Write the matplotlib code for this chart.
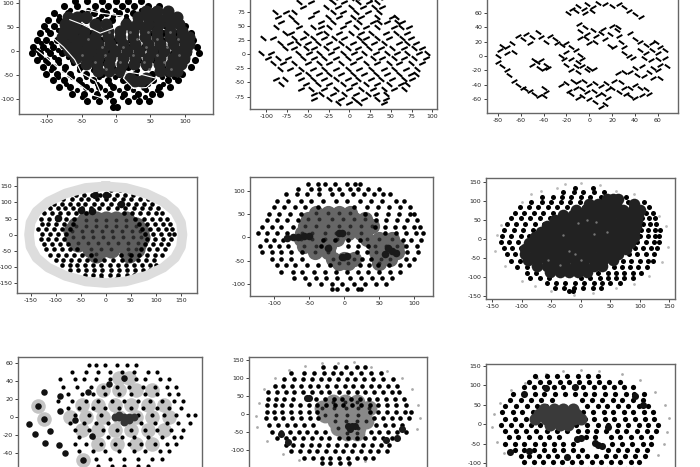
import matplotlib
matplotlib.use("Agg")
import matplotlib.pyplot as plt
from matplotlib.markers import MarkerStyle
from matplotlib.transforms import Affine2D

# Valores leidos a ojo de la figura. Cada fila: y -> lista de x

# --- fila 1, panel 1 ---
p1_base = {
    104: [-60, -42, -20, 0, 18, 36],
    93: [-76, -56, -30, -12, 8, 26, 46, 62],
    79: [-90, -70, -50, -32, -14, 4, 24, 44, 60, 76],
    65: [-98, -82, -64, -44, -26, -6, 14, 34, 54, 72, 90],
    51: [-104, -90, -72, -52, -30, -10, 12, 32, 52, 72, 92, 100],
    37: [-110, -96, -78, -58, -38, -16, 6, 26, 48, 68, 88, 108],
    23: [-114, -102, -86, -66, -44, -22, 0, 22, 44, 66, 88, 112],
    9: [-120, -106, -92, -72, -50, -28, -4, 18, 40, 62, 84, 106, 118],
    -5: [-122, -110, -96, -78, -56, -34, -10, 14, 36, 58, 82, 104, 120],
    -19: [-114, -102, -84, -62, -38, -14, 8, 32, 56, 80, 102, 114],
    -33: [-106, -92, -74, -52, -30, -6, 18, 42, 66, 90, 108],
    -47: [-102, -86, -66, -44, -20, 4, 28, 52, 76, 96],
    -61: [-92, -76, -54, -34, -12, 10, 32, 54, 76, 90],
    -75: [-82, -66, -44, -24, -4, 16, 40, 62, 78],
    -89: [-64, -46, -28, -8, 12, 32, 52, 64],
    -103: [-42, -24, -4, 18, 34, 48],
    -116: [-4, 2],
}
p1_fill = {
    86: [-66, -40, -20, -2, 16, 36, 54],
    72: [-82, -60, -22, -4, 14],
    44: [-100, -84, -66],
    16: [-108, -94, -76],
    2: [-114, -100, -84, -64],
    -12: [-108, -90, -70, -48, -28],
    -26: [-98, -82, -62, -40, -18],
    -40: [-94, -76, -54, -34, -12, 8, 30],
    -54: [-84, -64, -44, -24, -2, 18, 42, 66, 84],
    -68: [-72, -50, -28, -8, 22, 46, 68],
    -82: [-56, -36, -16, 4, 24, 44, 60],
    -96: [-50, -32, -14, 8, 26, 42],
}
p1_core = {
    84: [44, 60, 76],
    70: [-70, -56, -44, 32, 46, 60, 74, 88],
    56: [-74, -60, -30, -14, 14, 30, 46, 62, 78, 92],
    42: [-76, -62, -46, -28, -12, 6, 24, 42, 60, 78, 96],
    28: [-78, -62, -46, -30, -12, 6, 24, 42, 60, 78, 96, 106],
    14: [-74, -58, -42, -26, -8, 10, 28, 46, 64, 82, 100, 106],
    0: [-68, -52, -36, -20, -2, 16, 34, 52, 70, 88, 102],
    -14: [-58, -42, -26, -8, 10, 28, 46, 64, 82, 98],
    -28: [-44, -28, -10, 8, 26, 44, 62, 80, 94],
    -42: [-26, -10, 6, 64, 78, 88],
    -62: [28, 36],
    -56: [20, 44],
}
p1_speck = {
    40: [-10, 20, 46, 78],
    24: [-40, 30, 60, 90],
    8: [-20, 10, 44, 74],
    -8: [-50, -16, 24, 60, 92],
    -24: [-30, 6, 40, 70],
    -38: [-14, 48, 80],
}
v1_x = [-115, -100, -86, -71, -52, -33, -14]
v1_y = [2, -15, -33, -50, -71, -92, -100]
v2_x = [-67, -47, -23, -4, 11, -18, -48]
v2_y = [65, 54, 37, 47, 72, 78, 86]
v3_x = [11, 25, 44, 59, 35, 15, 11]
v3_y = [-57, -78, -76, -57, -48, -43, -57]
v4_x = [-92, -76, -60, -50, -30, -22, -8]
v4_y = [28, 8, -18, -46, -62, -88, -112]
p1_veins = [(v1_x, v1_y), (v2_x, v2_y), (v3_x, v3_y), (v4_x, v4_y)]

# --- fila 1, panel 2 ---
p2_dots = {
    108: [-6, 8, 20, 32],
    100: [-26, -12, 2, 14, 24, 42],
    92: [-60, -46, -20, -6, 10, 24, 34],
    84: [-56, -28, -14, 2, 16, 30, 40],
    75: [-90, -76, -66, -40, -20, -8, 8, 22, 36],
    66: [-86, -70, -46, -26, -12, 4, 14, 34, 52, 56],
    57: [-82, -64, -34, -20, -2, 12, 28, 36, 46, 58, 64],
    48: [-88, -60, -44, -34, -24, -8, 8, 20, 34, 54, 62, 72],
    38: [-78, -70, -52, -36, -28, -12, 2, 14, 26, 44, 56, 70],
    29: [-104, -92, -66, -56, -44, -30, -18, -6, 12, 20, 34, 48, 64, 74],
    20: [-84, -72, -62, -50, -38, -24, -10, 4, 18, 30, 42, 60, 70, 80],
    11: [-78, -66, -52, -42, -28, -16, -2, 10, 24, 38, 52, 66, 78, 88],
    2: [-106, -94, -62, -48, -36, -22, -8, 6, 18, 32, 46, 58, 70, 84, 94],
    -7: [-98, -86, -74, -56, -42, -30, -16, -2, 12, 28, 40, 54, 66, 78, 92],
    -16: [-92, -80, -66, -50, -36, -24, -10, 4, 20, 34, 48, 60, 74, 88],
    -26: [-84, -72, -58, -44, -30, -16, -2, 12, 26, 42, 54, 68, 82],
    -35: [-62, -50, -36, -24, -10, 4, 18, 32, 46, 60, 74, 80],
    -44: [-88, -78, -58, -44, -30, -16, -2, 10, 26, 38, 52, 66, 76],
    -53: [-82, -52, -38, -24, -8, 6, 20, 34, 48, 62, 70],
    -62: [-58, -46, -30, -16, 0, 14, 28, 42, 54, 66],
    -71: [-42, -34, -20, -6, 8, 22, 32, 44],
    -79: [-42, -24, -10, 6, 18, 34, 44],
    -87: [-14, 0, 12, 42],
}

# --- fila 1, panel 3 ---
p3_x = [-19, -15, -10, -5, -2, 3, 8, 14, 20, 26, 30, 35, 40, 45, -12, -4, 2,
        -9, -8, -8, -4, -2, 3, 6, 10, 14, 5, 0, -3, 12, 18, 20, 24, 26, 28, 22, 18, 30, 25,
        36, 40, 44, 50, 55, 58, 62, 66, 60, 55, 50, 44, 35, 30, 38, 48, 54, 60, 66, 68, 62, 56, 60, 62, 56, 52, 46, 40, 36, 42, 25, 30, 48,
        -80, -78, -76, -72, -68, -72, -66, -80, -76, -72, -70, -66, -62, -58, -56, -52, -48, -44, -40, -38, -40,
        -62, -58, -55, -50, -52, -45, -42, -38, -34, -30, -28, -24, -20,
        -25, -20, -16, -12, -8, -6, -10, -16, -20, -16, -10, -6, 0, 4, -2, -22, -12,
        -50, -46, -42, -44, -40, -38, -36, -48,
        -25, -20, -18, -14, -10, -5, 0, 5, 10, 15, -12, -6, -2, 4, 8, 12, 16, 20, -10, -6, 0, 5, 10, 14, 16, -16,
        22, 28, 30, 26, 32, 36, 40, 44, 46, 50, 52, 36, 40]
p3_y = [60, 66, 70, 66, 72, 68, 74, 72, 70, 72, 68, 63, 58, 54, 62, 60, 62,
        45, 35, 25, 40, 30, 36, 28, 32, 24, 20, 18, 25, 38, 30, 42, 36, 28, 20, 12, 14, 12, 40,
        32, 24, 20, 16, 18, 20, 12, 8, 4, 8, 4, 8, 0, 4, -3, -2, -6, -4, -2, -14, -12, -16, -20, -30, -30, -22, -14, -16, -22, -26, -24, -22, -28,
        0, 8, 14, 12, 18, 4, 6, -8, -14, -20, -26, -34, -40, -44, -46, -48, -52, -55, -56, -50, -44,
        28, 24, 30, 26, 18, 34, 26, 20, 28, 24, 18, 16, 18,
        0, 6, 12, 8, 2, -4, -8, -4, -12, -20, -22, -14, -16, -18, -20, -4, -14,
        -12, -8, -6, -16, -18, -12, -16, -6,
        -40, -38, -48, -34, -36, -34, -40, -38, -42, -38, -44, -46, -50, -48, -54, -52, -46, -44, -58, -56, -60, -64, -70, -66, -58, -52,
        -34, -36, -44, -50, -52, -44, -40, -44, -54, -46, -52, -56, -58]

# --- fila 2, panel 1 ---
p4_halo_x = [0, 40, 80, 115, 138, 150, 153, 150, 138, 115, 80, 40, 0, -40, -80, -115, -138, -150, -153, -150, -138, -115, -80, -40, 0]
p4_halo_y = [150, 145, 128, 102, 72, 38, 0, -38, -72, -102, -128, -145, -150, -145, -128, -102, -72, -38, 0, 38, 72, 102, 128, 145, 150]
p4_dots = {
    138: [-20, 10, 28],
    124: [-60, -44, -28, -12, 6, 22, 38, 54],
    110: [-86, -68, -50, -36, -18, 0, 16, 34, 50, 68, 84],
    96: [-104, -88, -72, -56, -42, -24, -8, 10, 26, 44, 60, 76, 92],
    82: [-112, -96, -82, -66, -48, -30, -14, 4, 22, 38, 56, 72, 88, 104],
    66: [-124, -108, -92, -76, -60, -40, 36, 52, 68, 84, 100, 112],
    50: [-130, -114, -98, -80, -64, 58, 76, 92, 108, 122],
    34: [-128, -116, -100, -84, -66, 66, 82, 98, 114, 128],
    18: [-136, -120, -104, -88, -72, 72, 88, 104, 120, 132],
    2: [-128, -112, -96, -80, 78, 94, 110, 126, 136],
    -14: [-130, -116, -100, -84, 82, 98, 114, 130],
    -30: [-124, -108, -92, -76, 78, 94, 110, 124],
    -46: [-120, -104, -88, -72, -58, 70, 86, 102, 118],
    -62: [-112, -96, -80, -64, -48, -30, 30, 50, 66, 82, 98, 112],
    -78: [-100, -86, -70, -54, -38, -22, -4, 14, 32, 48, 64, 80, 96],
    -94: [-88, -72, -58, -42, -26, -10, 8, 24, 40, 56, 72, 88, 100],
    -110: [-72, -56, -40, -24, -8, 10, 26, 42, 58, 74, 88],
    -124: [-42, -26, -10, 8, 24, 42, 56],
    -136: [-10, 22],
}
p4_core = {
    46: [-40, -20, 0, 20, 40],
    28: [-60, -40, -20, 0, 20, 40, 60],
    10: [-68, -48, -28, -8, 12, 32, 52, 68],
    -8: [-66, -46, -26, -6, 14, 34, 54, 70],
    -26: [-56, -36, -16, 4, 24, 44, 64],
    -44: [-30, -10, 10, 44, 60],
    -60: [-20, 46],
}
p4_spot_x = [-95, -50, -28, -22, 0, 30]
p4_spot_y = [52, 78, 72, 122, 122, 96]

# --- fila 2, panel 2 ---
p5_dots = {
    114: [-52, -38, -28, -14, 4, 16, 22],
    104: [-66, -48, -36, -20, -8, 8, 20, 34, 50],
    92: [-84, -68, -54, -36, -18, -4, 12, 28, 42, 56, 66],
    78: [-96, -80, -62, -48, -30, -12, 4, 22, 38, 54, 74, 86],
    64: [-100, -86, -70, -56, -38, 14, 32, 48, 64, 80, 94],
    50: [-108, -94, -78, -62, 30, 46, 62, 78, 94, 100],
    36: [-110, -96, -82, -66, 46, 60, 76, 90, 104],
    22: [-118, -104, -90, -74, 44, 58, 72, 86, 100, 108],
    8: [-124, -110, -96, -82, 58, 74, 88, 102, 112],
    -6: [-112, -100, -88, -30, -14, 6, 22, 84, 96, 110],
    -18: [-120, -106, -94, -80, -34, 6, 20, 34, 88, 104],
    -32: [-118, -104, -90, -76, -60, 18, 32, 90, 106],
    -46: [-104, -90, -76, -60, 26, 38, 88, 100],
    -60: [-96, -84, -70, -54, -38, -20, 22, 36, 48, 64, 80, 92],
    -74: [-90, -74, -60, -44, -28, -12, 4, 20, 34, 50, 66, 80],
    -88: [-72, -56, -40, -26, -10, 8, 24, 40, 54, 68],
    -100: [-50, -34, -18, -4, 14, 30, 46, 60],
    -110: [-18, -10, 4, 20, 24],
}
p5_core = {
    52: [-40, -24, -8, 8],
    38: [-52, -36, -18, -2, 14, 30],
    24: [-56, -40, -24, -8, 8, 24, 40],
    10: [-60, -46, -28, -12, 6, 24],
    -4: [-62, -46, -28, -10, 32, 50, 68],
    -18: [-58, -40, -22, 44, 60, 76],
    -32: [-42, -24, 46, 60, 76],
    -46: [-16, 0, 14, 52, 66],
    -56: [-8, 6, 50],
}
p5_spot_x = [-82, -74, -66, -58, -50, -8, -4, 62, 68, 58, 74, -4, 4, -24]
p5_spot_y = [-2, 0, 0, 2, 2, 10, 8, -24, -30, -36, -34, -42, -40, -24]

# --- fila 2, panel 3 ---
p6_ring_x = [-100, -85, -68, -40, -26, 0, 32, 60, 90, 118, 132, 145, 148, 138, 116, 90, 60, 20, -12, -50, -78, -100, -128, -145, -142, -135]
p6_ring_y = [98, 118, 128, 134, 144, 148, 142, 128, 120, 84, 60, 34, -20, -60, -96, -118, -128, -142, -146, -136, -122, -110, -70, -30, 10, 38]
p6_dots = {
    134: [-10, 20],
    124: [-30, -12, 4, 22, 40],
    112: [-66, -48, -32, -16, 0, 16, 34, 76],
    98: [-84, -66, -50, -34, -18, -2, 14, 30, 80, 108],
    84: [-104, -88, -72, -56, -40, -24, -8, 6, 100, 116],
    70: [-112, -96, -80, -64, -48, -32, 110, 122],
    56: [-118, -102, -86, -70, -52, 104, 116, 126],
    40: [-126, -110, -94, -78, -62, 106, 118, 128],
    24: [-130, -114, -98, -82, 102, 114, 126, 134],
    8: [-134, -118, -102, -88, 100, 114, 126, 132],
    -8: [-136, -122, -106, -92, 96, 110, 124, 132],
    -24: [-130, -116, -102, 92, 106, 120, 130],
    -40: [-126, -112, -100, 82, 96, 110, 124],
    -56: [-118, -104, 72, 86, 100, 114, 122],
    -72: [-108, -92, 56, 70, 84, 98, 112],
    -88: [-92, -76, 30, 46, 60, 74, 88, 102],
    -102: [-86, -70, -54, 0, 16, 32, 46, 60, 74, 88],
    -116: [-58, -42, -26, -10, 6, 22, 36, 50, 66],
    -128: [-44, -28, -12, 4, 20, 34],
    -136: [-20, -14],
}
p6_core = {
    106: [44, 54, 64],
    92: [14, 30, 46, 60, 90],
    78: [-8, 8, 24, 40, 56, 72, 88, 100],
    64: [-30, -14, 4, 20, 36, 52, 68, 84, 98],
    50: [-44, -28, -12, 4, 20, 36, 52, 68, 84, 96],
    35: [-58, -42, -26, -10, 6, 22, 38, 54, 70, 84, 94],
    20: [-68, -52, -36, -20, -4, 12, 28, 44, 60, 76, 90],
    5: [-78, -62, -46, -30, -14, 2, 18, 34, 50, 66, 82, 90],
    -10: [-88, -72, -56, -40, -24, -8, 8, 24, 40, 56, 72, 84],
    -25: [-94, -78, -62, -46, -30, -14, 2, 18, 34, 50, 66, 76],
    -40: [-94, -78, -62, -46, -30, -14, 2, 18, 34, 50, 64],
    -55: [-90, -74, -58, -42, -26, -10, 6, 22, 38, 54],
    -70: [-74, -58, -42, -26, -10, 6, 22, 36],
    -85: [-52, -36, -20, -4, 10],
}
p6_speck_x = [-5, 26, 22, -20, -10, 0, -55, -35, 10, 44, -30]
p6_speck_y = [42, 46, 14, -32, -40, -55, -55, -68, 50, 18, 10]

# --- fila 3, panel 1 ---
p7_dots = {
    58: [-4, 6, 14, 22, -18, -12],
    50: [-32, -20, -10, 0, 10, 20, 32, 40],
    42: [-42, -30, -22, -12, 0, 12, 22, 30, 42, 50],
    34: [-40, -28, -16, -6, 6, 16, 28, 38, 48, 56],
    26: [-36, -24, -14, -4, 8, 18, 30, 40, 50, 58],
    18: [-44, -32, -20, -10, 2, 12, 24, 34, 44, 54, 62],
    10: [-36, -26, -14, -4, 8, 18, 28, 40, 50, 60],
    2: [-30, -18, -8, 24, 36, 46, 56, 66, 72],
    -6: [-34, -22, -12, -2, 26, 38, 48, 58, 68],
    -14: [-30, -18, -6, 6, 18, 30, 40, 52, 62],
    -22: [-26, -14, -2, 10, 20, 32, 44, 54, 60],
    -30: [-30, -20, -8, 4, 16, 26, 38, 48, 56],
    -38: [-26, -14, -4, 8, 20, 30, 42, 50],
    -46: [-12, 0, 12, 24, 36, 44],
    -54: [-10, 2, 12, 24, 32],
}
p7_spot_x = [-61, -56, -51, -55, -64, -69, -56, -42, -43, -38, -23, -42, 12, -1, -19, -15, -30]
p7_spot_y = [12, -2, -15, -29, -19, -8, 28, 7, -31, -40, -47, 24, 44, 37, 28, -21, -3]
p7_center_x = [4, 8, 12, 16, 20, 8, 16, 12]
p7_center_y = [0, 0, 0, 0, 0, 3, -3, -5]
p7_gray = {
    44: [8, 16],
    30: [-6, 8, 22, 36],
    14: [-24, -10, 4, 18, 32, 46],
    0: [-34, -20, -6, 8, 22, 36, 50],
    -14: [-24, -10, 4, 18, 32, 46],
    -30: [-10, 6, 22, 36],
    12: [-61],
    -2: [-56],
    -47: [-23],
}

# --- fila 3, panel 2 ---
p8_ring_x = [-145, -150, -148, -135, -115, -90, -60, -30, 0, 30, 60, 90, 118, 135, 146, 150, 145, -100, -72, 20, 50, -130]
p8_ring_y = [30, -5, -35, 70, 100, 120, 132, 140, 140, 142, 130, 118, 100, 70, 25, -10, -40, -110, -125, -140, -130, -75]
p8_dots = {
    130: [-28, -6, 14, 34, 50],
    114: [-86, -62, -44, -26, -10, 6, 24, 42, 60, 78],
    96: [-98, -80, -64, -48, -32, -16, 0, 16, 32, 48, 64, 82, 100],
    78: [-116, -100, -84, -68, -52, -36, -20, -4, 12, 28, 44, 60, 76, 92, 108],
    60: [-128, -112, -96, -80, -64, -48, -32, -16, 2, 18, 34, 50, 66, 82, 98, 112],
    42: [-128, -114, -98, -82, -40, -24, -8, 8, 24, 40, 56, 72, 88, 104, 120],
    24: [-130, -116, -102, -86, -70, -54, -38, -22, -6, 10, 26, 42, 58, 74, 90, 106, 124],
    6: [-130, -118, -102, -86, -70, -54, -38, 58, 74, 90, 106, 122, 134],
    -12: [-132, -116, -100, -84, -68, -52, -36, 66, 82, 98, 114, 130],
    -30: [-126, -110, -94, -78, -62, -46, 70, 86, 100, 118],
    -48: [-120, -104, -88, -72, -56, -40, -24, 60, 76, 92, 108, 124],
    -66: [-112, -96, -80, -64, -48, -32, -16, 2, 18, 34, 50, 66, 82, 98, 108],
    -84: [-96, -82, -66, -50, -34, -18, -2, 14, 30, 46, 62, 78, 94],
    -102: [-86, -70, -54, -38, -22, -6, 10, 26, 42, 58, 74, 90],
    -120: [-62, -46, -30, -14, 2, 18, 34, 50, 64],
    -134: [-30, -14, 4, 20],
}
p8_core = {
    34: [-10, 12, 34],
    16: [-30, -8, 14, 36, 56],
    -2: [-24, -4, 16, 36],
    -20: [-6, 14, 34, 52],
    -38: [0, 18, 36],
    -52: [16, 34],
}
p8_spot_x = [18, 26, 32, 22, -57, -54, 118, 108, 88, -104, -92]
p8_spot_y = [-32, -33, -34, -40, 45, 43, -42, -65, -70, -55, -78]

# --- fila 3, panel 3 ---
p9_ring_x = [-60, -30, 0, 30, 70, 100, 125, 142, 148, 146, -150, -148, -138, -118, -95, -74, -130, -142, 140, 130]
p9_ring_y = [128, 135, 138, 135, 128, 112, 82, 50, 15, -20, -8, 25, 55, 88, 105, 118, -75, -45, -50, -78]
p9_dots = {
    122: [-78, -58, -40, -24, -6, 12, 28],
    108: [-88, -70, -54, -36, -20, -4, 14, 30, 48, 66],
    94: [-96, -80, -62, -46, -30, -12, 4, 22, 38, 56, 72, 88],
    78: [-116, -96, -78, -62, -44, -28, -10, 6, 22, 40, 58, 76, 90, 106],
    62: [-120, -102, -84, -68, -50, 2, 18, 36, 54, 70, 88, 104],
    46: [-128, -110, -92, -74, -60, 10, 28, 44, 62, 80, 98, 114],
    30: [-134, -116, -100, -82, 4, 20, 38, 54, 72, 88, 106, 122],
    14: [-128, -112, -94, 6, 22, 40, 56, 74, 92, 108, 124],
    -2: [-136, -118, -102, -84, -70, -8, 10, 28, 46, 62, 80, 98, 114, 130],
    -18: [-128, -110, -94, -76, -58, -40, -24, -6, 10, 26, 42, 60, 76, 94, 112, 126],
    -34: [-122, -106, -88, -70, -54, -38, 8, 24, 50, 66, 84, 102, 118],
    -50: [-128, -112, -96, -78, -62, -46, -30, -14, 52, 70, 86, 104, 118],
    -66: [-112, -96, -80, -62, -46, -30, -14, 2, 46, 62, 78, 94, 112],
    -82: [-102, -88, -72, -56, -40, -6, 10, 26, 42, 58, 74, 92, 108],
    -98: [-96, -80, -64, -48, -32, -16, 0, 18, 34, 50, 66, 84, 98],
    -114: [-84, -68, -52, -36, -20, -4, 12, 28, 44, 60, 76, 88],
    -130: [-66, -50, -34, -18, -2, 14, 30, 46, 60],
}
p9_core = {
    40: [-62, -46, -30, -14],
    26: [-72, -56, -40, -24, -8],
    12: [-78, -60, -44, -28, -12, 0],
    -2: [-52, -36, -22],
}
p9_spot_x = [-7, 0, 29, 24, 36, -24, -120, -96, 92, -60, -10, 104, -88, 46]
p9_spot_y = [-39, -36, -54, -48, -56, -84, -71, 78, 72, 92, 96, 48, -70, -8]

# ticks de cada panel
x_ticks = [
    [-100, -50, 0, 50, 100],
    [-100, -75, -50, -25, 0, 25, 50, 75, 100],
    [-80, -60, -40, -20, 0, 20, 40, 60],
    [-150, -100, -50, 0, 50, 100, 150],
    [-100, -50, 0, 50, 100],
    [-150, -100, -50, 0, 50, 100, 150],
    [], [], [],
]
y_ticks = [
    [-100, -50, 0, 50, 100],
    [-75, -50, -25, 0, 25, 50, 75, 100],
    [-60, -40, -20, 0, 20, 40, 60, 80],
    [-150, -100, -50, 0, 50, 100, 150],
    [-100, -50, 0, 50, 100],
    [-150, -100, -50, 0, 50, 100, 150],
    [-40, -20, 0, 20, 40, 60],
    [-150, -100, -50, 0, 50, 100, 150],
    [-100, -50, 0, 50, 100, 150],
]
x_lims = [(-140.6, 140.6), (-119.6, 105.7), (-89.5, 77.6), (-177, 182), (-135, 127),
          (-161, 160), (-78, 78), (-163, 163), (-161, 159)]
y_lims = [(-131, 110), (-97, 108), (-79, 82), (-181, 179), (-126, 129),
          (-157, 161), (-62, 67), (-162, 157), (-143, 154)]
# left, right, top, bottom en pixeles
cajas = [(19, 213, -2, 114), (250, 437, -7, 109), (487, 678, -3, 113),
         (17, 197, 177, 293), (250, 433, 177, 296), (486, 675, 178, 299),
         (18, 202, 357, 473), (249, 427, 357, 473), (486, 675, 364, 480)]


def filas(rows):
    xs, ys = [], []
    for y, vals in rows.items():
        xs += vals
        ys += [y] * len(vals)
    return xs, ys


def trazo(angulo):
    # marca corta e inclinada, para que los puntos parezcan "gusanos"
    return MarkerStyle("_", transform=Affine2D().rotate_deg(angulo))


W, H = 700, 467
plt.rcParams["axes.unicode_minus"] = False
fig = plt.figure(figsize=(W / 100, H / 100), dpi=100)
axes = []
for i, (l, r, t, b) in enumerate(cajas):
    ax = fig.add_axes([l / W, 1 - b / H, (r - l) / W, (b - t) / H])
    ax.set_xlim(x_lims[i])
    ax.set_ylim(y_lims[i])
    ax.set_xticks(x_ticks[i])
    ax.set_yticks(y_ticks[i])
    ax.tick_params(labelsize=4.5, length=2, width=0.6, pad=1.5, colors="#222222")
    for s in ax.spines.values():
        s.set_color("#666666")
        s.set_linewidth(1.0)
    axes.append(ax)

# panel 1
x, y = filas(p1_base)
axes[0].scatter(x, y, s=26, color="black", linewidths=0)
x, y = filas(p1_fill)
axes[0].scatter(x, y, s=14, color="black", linewidths=0)
x, y = filas(p1_core)
axes[0].scatter(x, y, s=75, color="#242424", linewidths=0)
x, y = filas(p1_speck)
axes[0].scatter(x, y, s=4, color="#666666", linewidths=0)
for vx, vy in p1_veins:
    axes[0].plot(vx, vy, color="white", lw=0.8)

# panel 2 y 3
x, y = filas(p2_dots)
axes[1].scatter(x[::2], y[::2], s=26, marker=trazo(-40), color="black", linewidths=1.5)
axes[1].scatter(x[1::2], y[1::2], s=26, marker=trazo(25), color="black", linewidths=1.5)
axes[2].scatter(p3_x[::2], p3_y[::2], s=22, marker=trazo(-35), color="black", linewidths=1.4)
axes[2].scatter(p3_x[1::2], p3_y[1::2], s=22, marker=trazo(30), color="black", linewidths=1.4)

# panel 4
axes[3].plot(p4_halo_x, p4_halo_y, color="#dddddd", lw=7)
x, y = filas(p4_core)
axes[3].scatter(x, y, s=170, color="#5e5e5e", linewidths=0)
axes[3].scatter(x, y, s=8, color="#2a2a2a", linewidths=0)
x, y = filas(p4_dots)
axes[3].scatter(x, y, s=11, color="black", linewidths=0)
axes[3].scatter(p4_spot_x, p4_spot_y, s=30, color="#111111", linewidths=0)

# panel 5
x, y = filas(p5_core)
axes[4].scatter(x, y, s=120, color="#666666", linewidths=0)
axes[4].scatter(x, y, s=8, color="#2a2a2a", linewidths=0)
x, y = filas(p5_dots)
axes[4].scatter(x, y, s=11, color="black", linewidths=0)
axes[4].scatter(p5_spot_x, p5_spot_y, s=30, color="#1a1a1a", linewidths=0)

# panel 6
axes[5].scatter(p6_ring_x, p6_ring_y, s=4, color="#bbbbbb", linewidths=0)
x, y = filas(p6_dots)
axes[5].scatter(x, y, s=13, color="black", linewidths=0)
x, y = filas(p6_core)
axes[5].scatter(x, y, s=70, color="#222222", linewidths=0)
axes[5].scatter(p6_speck_x, p6_speck_y, s=3, color="#777777", linewidths=0)

# panel 7
x, y = filas(p7_gray)
axes[6].scatter(x, y, s=110, color="#c4c4c4", linewidths=0)
x, y = filas(p7_dots)
axes[6].scatter(x, y, s=9, color="black", linewidths=0)
axes[6].scatter(p7_spot_x, p7_spot_y, s=22, color="#111111", linewidths=0)
axes[6].scatter(p7_center_x, p7_center_y, s=32, color="#333333", linewidths=0)

# panel 8
axes[7].scatter(p8_ring_x, p8_ring_y, s=4, color="#aaaaaa", linewidths=0)
x, y = filas(p8_core)
axes[7].scatter(x, y, s=130, color="#888888", linewidths=0)
axes[7].scatter(x, y, s=8, color="#222222", linewidths=0)
x, y = filas(p8_dots)
axes[7].scatter(x, y, s=11, color="black", linewidths=0)
axes[7].scatter(p8_spot_x, p8_spot_y, s=26, color="#1a1a1a", linewidths=0)

# panel 9
axes[8].scatter(p9_ring_x, p9_ring_y, s=4, color="#aaaaaa", linewidths=0)
x, y = filas(p9_dots)
axes[8].scatter(x, y, s=14, color="black", linewidths=0)
x, y = filas(p9_core)
axes[8].scatter(x, y, s=75, color="#3a3a3a", linewidths=0)
axes[8].scatter(p9_spot_x, p9_spot_y, s=26, color="#111111", linewidths=0)

fig.savefig("out.png", dpi=100)
